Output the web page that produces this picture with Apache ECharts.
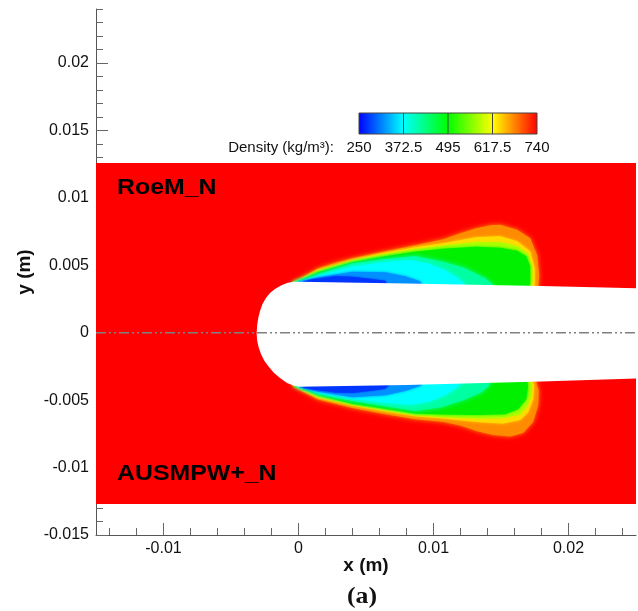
<!DOCTYPE html>
<html>
<head>
<meta charset="utf-8">
<script src="https://cdn.jsdelivr.net/npm/echarts@6/dist/echarts.min.js"></script>
<style>
  html, body { margin: 0; padding: 0; background: #fff; }
  #chart { width: 638px; height: 611px; }
</style>
</head>
<body>
<div id="chart"></div>
<script>
// ---- axis ticks (m) ----
const xMajorTicks = [-0.01, 0, 0.01, 0.02];
const xMinorTicks = [-0.014, -0.012, -0.008, -0.006, -0.004, -0.002, 0.002, 0.004, 0.006, 0.008,
                     0.012, 0.014, 0.016, 0.018, 0.022, 0.024];
const yMajorTicks = [-0.015, -0.01, -0.005, 0, 0.005, 0.01, 0.015, 0.02];
const yMinorTicks = [-0.014, -0.013, -0.012, -0.011, -0.009, -0.008, -0.007, -0.006, -0.004, -0.003,
                     -0.002, -0.001, 0.001, 0.002, 0.003, 0.004, 0.006, 0.007, 0.008, 0.009, 0.011,
                     0.012, 0.013, 0.014, 0.016, 0.017, 0.018, 0.019, 0.021, 0.022, 0.023, 0.024];

// ---- colour bar ----
const cbLabels = ['250', '372.5', '495', '617.5', '740'];
const cbColors = ['#0000ff', '#00ffff', '#00ff00', '#ffff00', '#ff0000'];

// ---- computational domain (free stream, rho = 740) ----
const domainX = [-0.015, 0.025];
const domainY = [-0.0127, 0.01258];

// ---- body outline: top surface, rounded nose, bottom surface ----
const bodyOutline = [
  [0.025, 0.0033], [0.018, 0.00347], [0.008, 0.00365], [0.0, 0.00378],
  [-0.00041, 0.00378], [-0.00085, 0.00368], [-0.0013, 0.0035], [-0.00174, 0.00324],
  [-0.00211, 0.00294], [-0.00241, 0.00257], [-0.00267, 0.00213], [-0.00285, 0.00161],
  [-0.00298, 0.00109], [-0.00306, 0.00057], [-0.0031, -0.00002], [-0.00307, -0.00054],
  [-0.00296, -0.00106], [-0.00278, -0.00158], [-0.00252, -0.0021], [-0.00219, -0.00254],
  [-0.00181, -0.00299], [-0.00137, -0.00336], [-0.00085, -0.00373], [-0.00026, -0.00395],
  [0.0, -0.004], [0.008, -0.00387], [0.018, -0.00361], [0.025, -0.0034]
];

// ---- symmetry line ----
const centerLine = [[-0.015, 0], [0.025, 0]];

// ---- density iso-regions, upper half (RoeM_N) ----
const upperA = [[-0.00047, 0.00374], [0.00013, 0.00404], [0.00146, 0.00478], [0.00272, 0.00519], [0.00398, 0.00552],
  [0.00642, 0.00604], [0.00864, 0.00648], [0.01072, 0.00693], [0.01198, 0.00737], [0.01316, 0.00774],
  [0.0142, 0.00796], [0.01494, 0.0080], [0.0162, 0.00763], [0.01716, 0.0070], [0.01768, 0.00574],
  [0.01783, 0.00426], [0.01776, 0.00337], [0.01776, 0.0024], [-0.0002, 0.0024]];
const upperB = [[-0.00043, 0.00374], [0.00013, 0.00396], [0.00146, 0.00467], [0.00398, 0.00541], [0.00642, 0.00593],
  [0.00864, 0.00633], [0.01072, 0.00663], [0.01316, 0.00707], [0.01494, 0.00715], [0.0162, 0.00678],
  [0.01716, 0.00604], [0.0175, 0.00478], [0.0175, 0.00374], [0.01746, 0.00337], [0.01746, 0.0024], [-0.0002, 0.0024]];
const upperC = [[-0.00039, 0.00374], [0.00013, 0.00393], [0.00146, 0.00459], [0.00398, 0.00533], [0.00642, 0.00581],
  [0.00864, 0.00619], [0.01072, 0.00644], [0.01316, 0.0067], [0.01494, 0.0067], [0.0162, 0.00641],
  [0.01701, 0.00581], [0.01731, 0.00478], [0.01731, 0.00374], [0.01724, 0.00337], [0.01724, 0.0024], [-0.0002, 0.0024]];
const upperD = [[-0.00036, 0.00374], [0.00013, 0.00389], [0.00146, 0.00448], [0.00398, 0.00522], [0.00642, 0.00567],
  [0.00864, 0.0060], [0.01072, 0.00622], [0.01316, 0.00637], [0.01494, 0.0063], [0.0162, 0.00607],
  [0.01687, 0.00567], [0.01716, 0.00493], [0.01716, 0.00374], [0.01709, 0.00337], [0.01709, 0.0024], [-0.0002, 0.0024]];
const upperE = [[-0.00032, 0.00374], [0.00013, 0.00385], [0.00146, 0.00433], [0.00398, 0.00513], [0.00642, 0.00546],
  [0.00864, 0.00568], [0.01072, 0.00526], [0.0123, 0.00479], [0.0138, 0.00405], [0.01437, 0.0036],
  [0.0145, 0.0031], [0.0145, 0.0024], [-0.0002, 0.0024]];
const upperF = [[-0.00017, 0.00374], [0.00027, 0.00381], [0.00146, 0.00422], [0.00398, 0.00489], [0.00642, 0.00524],
  [0.0083, 0.00539], [0.0097, 0.00509], [0.0108, 0.00464], [0.0118, 0.00405], [0.0123, 0.0036],
  [0.0124, 0.0031], [0.0124, 0.0024], [-0.0002, 0.0024]];
const upperG = [[-0.00002, 0.00378], [0.0005, 0.00389], [0.00146, 0.00411], [0.00398, 0.00452], [0.00642, 0.00448],
  [0.0079, 0.00419], [0.009, 0.00381], [0.0094, 0.00315], [0.0094, 0.0024], [-0.0002, 0.0024]];
const upperH = [[0.00035, 0.00378], [0.00101, 0.00396], [0.00272, 0.00419], [0.00398, 0.00415], [0.0053, 0.0040],
  [0.00642, 0.00385], [0.0068, 0.00315], [0.0068, 0.0024], [0.0002, 0.0024]];

// ---- density iso-regions, lower half (AUSMPW+_N) ----
const lowerA = [[-0.00047, -0.00389], [0.00013, -0.00426], [0.00146, -0.00496], [0.00398, -0.00559], [0.00642, -0.00604],
  [0.00864, -0.00641], [0.01072, -0.00663], [0.01198, -0.00689], [0.01324, -0.0073], [0.01442, -0.00759],
  [0.01568, -0.0077], [0.01664, -0.00744], [0.01738, -0.00663], [0.01776, -0.00537], [0.0178, -0.00426],
  [0.01761, -0.00367], [0.01761, -0.0024], [-0.0002, -0.0024]];
const lowerB = [[-0.00039, -0.00393], [0.00013, -0.00419], [0.00146, -0.00485], [0.00398, -0.00541], [0.00642, -0.00585],
  [0.00864, -0.00619], [0.01072, -0.00637], [0.01324, -0.00663], [0.01516, -0.00674], [0.01642, -0.00648],
  [0.01701, -0.00589], [0.01738, -0.00493], [0.01746, -0.00389], [0.01731, -0.00359], [0.01731, -0.0024], [-0.0002, -0.0024]];
const lowerC = [[-0.00036, -0.00393], [0.00013, -0.00411], [0.00146, -0.00474], [0.00398, -0.00533], [0.00642, -0.00574],
  [0.00864, -0.00611], [0.01072, -0.00626], [0.01324, -0.00637], [0.01516, -0.00633], [0.01642, -0.00607],
  [0.01694, -0.00544], [0.01724, -0.00463], [0.01724, -0.00389], [0.01716, -0.00359], [0.01716, -0.0024], [-0.0002, -0.0024]];
const lowerD = [[-0.00032, -0.00396], [0.00013, -0.00407], [0.00146, -0.00463], [0.00398, -0.00526], [0.00642, -0.00563],
  [0.00864, -0.0060], [0.01072, -0.00607], [0.01324, -0.00611], [0.01531, -0.00604], [0.01627, -0.00567],
  [0.01687, -0.00493], [0.01701, -0.00396], [0.01694, -0.00359], [0.01694, -0.0024], [-0.0002, -0.0024]];
const lowerE = [[-0.00024, -0.00396], [0.00027, -0.00407], [0.00146, -0.00456], [0.00398, -0.00504], [0.00642, -0.00545],
  [0.00864, -0.0058], [0.0105, -0.00555], [0.0122, -0.005], [0.0135, -0.00445], [0.0141, -0.00395],
  [0.0143, -0.0035], [0.0143, -0.0024], [-0.0002, -0.0024]];
const lowerF = [[-0.0001, -0.004], [0.00035, -0.00407], [0.00146, -0.00444], [0.00398, -0.00492], [0.00642, -0.0052],
  [0.0083, -0.00535], [0.0097, -0.0051], [0.0108, -0.00465], [0.0117, -0.0041], [0.0122, -0.0036],
  [0.0123, -0.0031], [0.0123, -0.0024], [-0.0002, -0.0024]];
const lowerG = [[0.00005, -0.00404], [0.0005, -0.00415], [0.00146, -0.00437], [0.00398, -0.00478], [0.00642, -0.00463],
  [0.0079, -0.00433], [0.009, -0.00396], [0.0094, -0.00352], [0.0094, -0.0024], [0.0002, -0.0024]];
const lowerH = [[0.00035, -0.00407], [0.00101, -0.00422], [0.00272, -0.00444], [0.00398, -0.00448], [0.0053, -0.00433],
  [0.00642, -0.00415], [0.00694, -0.00367], [0.00694, -0.0024], [0.0002, -0.0024]];

// fill colour and edge softness of each nested level, outermost first
const levelColors = ['#ff8c00', '#ffdc00', '#aaff00', '#00f000', '#00ffa0', '#00ffff', '#0090ff', '#0034ff'];
const levelBlur = [5, 3, 2, 3, 5, 5, 3, 2];

const upperLevels = [upperA, upperB, upperC, upperD, upperE, upperF, upperG, upperH];
const lowerLevels = [lowerA, lowerB, lowerC, lowerD, lowerE, lowerF, lowerG, lowerH];
const plumeShapes = upperLevels.concat(lowerLevels);

const font = '"Liberation Sans", Arial, Helvetica, sans-serif';
const chart = echarts.init(document.getElementById('chart'), null, { renderer: 'canvas' });

const option = {
  backgroundColor: '#ffffff',
  animation: false,
  grid: [
    { left: 96, top: 9, width: 540, height: 526, containLabel: false },
    { left: 359, top: 113, width: 178, height: 21, containLabel: false }
  ],
  xAxis: [
    {
      type: 'value', gridIndex: 0, min: -0.015, max: 0.025, position: 'bottom',
      name: 'x (m)', nameLocation: 'middle', nameGap: 21, nameMoveOverlap: false,
      nameTextStyle: { fontFamily: font, fontWeight: 'bold', fontSize: 19, color: '#111' },
      axisLine: { show: true, onZero: false, lineStyle: { color: '#555', width: 1 } },
      axisTick: { show: true, inside: true, length: 12, customValues: xMajorTicks, lineStyle: { color: '#666', width: 1 } },
      axisLabel: { show: true, customValues: xMajorTicks, margin: 6, fontFamily: font, fontSize: 16, color: '#111',
                   formatter: v => String(v) },
      splitLine: { show: false }
    },
    {
      type: 'value', gridIndex: 0, min: -0.015, max: 0.025, position: 'bottom',
      axisLine: { show: false, onZero: false },
      axisTick: { show: true, inside: true, length: 7, customValues: xMinorTicks, lineStyle: { color: '#666', width: 1 } },
      axisLabel: { show: false },
      splitLine: { show: false }
    },
    {
      type: 'value', gridIndex: 1, min: 0, max: 4, interval: 1, position: 'bottom',
      axisLine: { show: false },
      axisTick: { show: false },
      axisLabel: { show: true, margin: 6, fontFamily: font, fontSize: 15, color: '#111',
                   formatter: v => cbLabels[Math.round(v)] },
      splitLine: { show: false }
    }
  ],
  yAxis: [
    {
      type: 'value', gridIndex: 0, min: -0.015, max: 0.024, position: 'left',
      name: 'y (m)', nameLocation: 'middle', nameGap: 62, nameMoveOverlap: false,
      nameTextStyle: { fontFamily: font, fontWeight: 'bold', fontSize: 19, color: '#111' },
      axisLine: { show: true, onZero: false, lineStyle: { color: '#555', width: 1 } },
      axisTick: { show: true, inside: true, length: 12, customValues: yMajorTicks, lineStyle: { color: '#666', width: 1 } },
      axisLabel: { show: true, customValues: yMajorTicks, margin: 7, fontFamily: font, fontSize: 16, color: '#111',
                   formatter: v => String(v) },
      splitLine: { show: false }
    },
    {
      type: 'value', gridIndex: 0, min: -0.015, max: 0.024, position: 'left',
      axisLine: { show: false, onZero: false },
      axisTick: { show: true, inside: true, length: 7, customValues: yMinorTicks, lineStyle: { color: '#666', width: 1 } },
      axisLabel: { show: false },
      splitLine: { show: false }
    },
    {
      type: 'value', gridIndex: 1, min: 0, max: 1, show: false
    }
  ],
  graphic: [
    { type: 'text', x: 117, y: 188, scaleX: 1.13,
      style: { text: 'RoeM_N', font: 'bold 22px ' + font, fill: '#000', verticalAlign: 'middle' }, z: 100 },
    { type: 'text', x: 117, y: 474, scaleX: 1.13,
      style: { text: 'AUSMPW+_N', font: 'bold 22px ' + font, fill: '#000', verticalAlign: 'middle' }, z: 100 },
    { type: 'text', x: 334, y: 148,
      style: { text: 'Density (kg/m³):', font: '15px ' + font, fill: '#111', align: 'right', verticalAlign: 'middle' }, z: 100 },
    { type: 'text', x: 362, y: 597, scaleX: 1.12,
      style: { text: '(a)', font: 'bold 23px "Liberation Serif", "Times New Roman", serif', fill: '#111',
               align: 'center', verticalAlign: 'middle' }, z: 100 }
  ],
  series: [
    // free-stream domain
    {
      type: 'custom', xAxisIndex: 0, yAxisIndex: 0, clip: true, z: 1, silent: true,
      data: [[0]],
      renderItem: (params, api) => {
        const p0 = api.coord([domainX[0], domainY[1]]);
        const p1 = api.coord([domainX[1], domainY[0]]);
        return { type: 'rect', shape: { x: p0[0], y: p0[1], width: p1[0] - p0[0], height: p1[1] - p0[1] },
                 style: { fill: '#ff0000' } };
      }
    },
    // nested density levels of the expansion region
    {
      type: 'custom', xAxisIndex: 0, yAxisIndex: 0, clip: true, z: 2, silent: true,
      data: plumeShapes.map((_, i) => [i]),
      renderItem: (params, api) => {
        const i = params.dataIndex;
        const lvl = i % levelColors.length;
        const pts = plumeShapes[i].map(p => api.coord(p));
        const c = levelColors[lvl];
        return { type: 'polygon', shape: { points: pts },
                 style: { fill: c, shadowBlur: levelBlur[lvl], shadowColor: c } };
      }
    },
    // body
    {
      type: 'custom', xAxisIndex: 0, yAxisIndex: 0, clip: true, z: 3, silent: true,
      data: [[0]],
      renderItem: (params, api) => {
        const pts = bodyOutline.map(p => api.coord(p));
        return { type: 'polygon', shape: { points: pts }, style: { fill: '#ffffff' } };
      }
    },
    // symmetry line
    {
      type: 'line', xAxisIndex: 0, yAxisIndex: 0, z: 4, silent: true,
      data: centerLine, symbol: 'none',
      lineStyle: { color: '#808080', width: 1.5, type: [10, 3, 2, 3, 2, 3] }
    },
    // colour bar
    {
      type: 'custom', xAxisIndex: 2, yAxisIndex: 2, z: 5, silent: true,
      data: [[0]],
      renderItem: (params, api) => {
        const p0 = api.coord([0, 1]);
        const p1 = api.coord([cbLabels.length - 1, 0]);
        const stops = cbColors.map((c, k) => ({ offset: k / (cbColors.length - 1), color: c }));
        const children = [{
          type: 'rect', shape: { x: p0[0], y: p0[1], width: p1[0] - p0[0], height: p1[1] - p0[1] },
          style: { fill: new echarts.graphic.LinearGradient(0, 0, 1, 0, stops), stroke: '#444', lineWidth: 1 }
        }];
        for (let k = 1; k < cbLabels.length - 1; k++) {
          const px = api.coord([k, 0])[0];
          children.push({ type: 'line', shape: { x1: px, y1: p0[1], x2: px, y2: p1[1] },
                          style: { stroke: '#444', lineWidth: 1 } });
        }
        return { type: 'group', children };
      }
    }
  ]
};

chart.setOption(option);
</script>
</body>
</html>
